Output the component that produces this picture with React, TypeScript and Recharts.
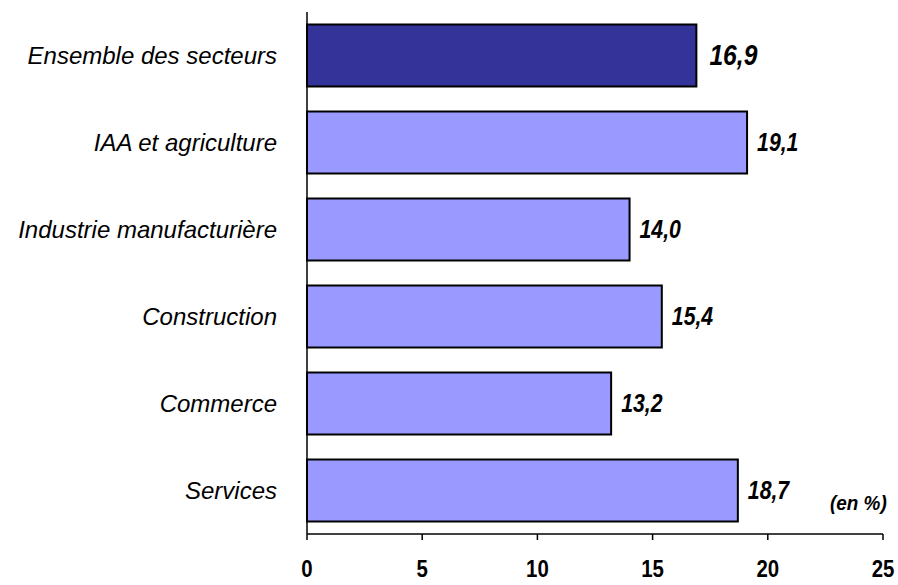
import { BarChart, Bar, XAxis, YAxis, Cell, LabelList } from 'recharts'

const sectors = [
  'Ensemble des secteurs',
  'IAA et agriculture',
  'Industrie manufacturière',
  'Construction',
  'Commerce',
  'Services',
]
const rates = [16.9, 19.1, 14.0, 15.4, 13.2, 18.7]
const xTicks = [0, 5, 10, 15, 20, 25]

const FONT = '"Liberation Sans", Arial, sans-serif'
const NARROW = 0.85

const data = sectors.map((name, i) => ({ name, value: rates[i] }))

// narrow bold text, squeezed horizontally around its anchor
function NarrowText({ x, y, size, anchor, italic, children }: any) {
  return (
    <text
      transform={`translate(${x},${y}) scale(${NARROW},1)`}
      textAnchor={anchor}
      dominantBaseline="central"
      fontFamily={FONT}
      fontWeight="bold"
      fontStyle={italic ? 'italic' : 'normal'}
      fontSize={size}
      fill="#000"
    >
      {children}
    </text>
  )
}

function ValueLabel(props: any) {
  const { x, y, width, height, value, index } = props
  const big = index === 0
  return (
    <NarrowText x={x + width + (big ? 13 : 10)} y={y + height / 2} size={big ? 29 : 25} anchor="start" italic>
      {(value as number).toFixed(1).replace('.', ',')}
    </NarrowText>
  )
}

function XTick(props: any) {
  const { x, y, payload } = props
  return (
    <NarrowText x={x} y={y + 29} size={24} anchor="middle">
      {payload.value}
    </NarrowText>
  )
}

function YTick(props: any) {
  const { x, y, payload } = props
  return (
    <text
      x={x}
      y={y}
      textAnchor="end"
      dominantBaseline="central"
      fontFamily={FONT}
      fontStyle="italic"
      fontSize={24}
      fill="#000"
    >
      {payload.value}
    </text>
  )
}

export default function App() {
  return (
    <div style={{ position: 'absolute', left: 0, top: 0, width: 898, height: 585, background: '#fff' }}>
      <BarChart
        width={898}
        height={585}
        data={data}
        layout="vertical"
        margin={{ top: 12, right: 15, bottom: 0, left: 0 }}
        barCategoryGap="14.4%"
      >
        <XAxis
          type="number"
          domain={[0, 25]}
          ticks={xTicks}
          height={51}
          axisLine={{ stroke: '#000', strokeWidth: 1.5 }}
          tickLine={{ stroke: '#000', strokeWidth: 1.5 }}
          tickSize={6}
          tickMargin={0}
          tick={<XTick />}
        />
        <YAxis
          type="category"
          dataKey="name"
          width={307}
          axisLine={{ stroke: '#000', strokeWidth: 1.5 }}
          tickLine={false}
          tickSize={0}
          tickMargin={30}
          tick={<YTick />}
        />
        <Bar dataKey="value" stroke="#000" strokeWidth={2} isAnimationActive={false}>
          {data.map((d, i) => (
            <Cell key={d.name} fill={i === 0 ? '#333399' : '#9999FF'} />
          ))}
          <LabelList dataKey="value" content={<ValueLabel />} />
        </Bar>
      </BarChart>
      <div
        style={{
          position: 'absolute',
          left: 830,
          top: 491,
          fontFamily: FONT,
          fontStyle: 'italic',
          fontWeight: 'bold',
          fontSize: 21,
          lineHeight: '24px',
          color: '#000',
          transform: 'scaleX(0.9)',
          transformOrigin: 'left center',
          whiteSpace: 'nowrap',
        }}
      >
        (en %)
      </div>
    </div>
  )
}
